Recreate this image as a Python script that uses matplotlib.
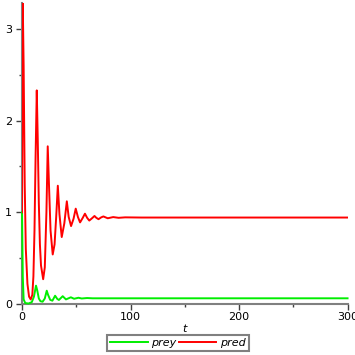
import matplotlib
matplotlib.use("Agg")
import matplotlib.pyplot as plt
from matplotlib.ticker import MultipleLocator

# Predator (red)
pred_t = [0, 0.7, 1.5, 2.5, 3.5, 5, 6.5, 8, 9.5, 10.5, 11.5, 12.5, 13.6, 14.5, 15.5, 16.5,
          17.5, 19.5, 21, 22.5, 23.7, 25, 26.3, 28.3, 30, 31.5, 33, 34.5, 36.6, 39, 41.3,
          43, 45.2, 47.5, 49.5, 51.5, 53.5, 56, 58, 60, 62, 64.5, 66.8, 68.5, 70.5, 73,
          75, 77, 79, 84, 89, 95, 110, 300]
pred_v = [1.0, 3.28, 2.6, 1.3, 0.6, 0.22, 0.08, 0.05, 0.1, 0.3, 0.8, 1.6, 2.33, 1.8, 1.1, 0.65,
          0.42, 0.27, 0.4, 1.0, 1.72, 1.25, 0.8, 0.54, 0.65, 0.95, 1.29, 0.98, 0.73, 0.88, 1.12,
          0.95, 0.85, 0.93, 1.04, 0.95, 0.89, 0.94, 0.985, 0.94, 0.91, 0.935, 0.96, 0.94, 0.925, 0.945,
          0.955, 0.945, 0.935, 0.948, 0.94, 0.945, 0.943, 0.943]

# Prey (green)
prey_t = [0, 0.7, 1.5, 3, 6, 9, 11, 12.9, 14, 15.5, 17, 19, 21, 22.8, 24, 26, 28, 30.5,
          32.5, 34, 37.5, 40.5, 45, 48, 52, 55, 60, 65, 300]
prey_v = [1.0, 0.3, 0.05, 0.01, 0.005, 0.02, 0.08, 0.2, 0.15, 0.06, 0.03, 0.025, 0.06, 0.145,
          0.1, 0.045, 0.036, 0.09, 0.055, 0.044, 0.085, 0.05, 0.073, 0.057, 0.068, 0.06, 0.065,
          0.062, 0.062]

labels = ["prey", "pred"]
colors = ["#00ee00", "#ff0000"]

fig = plt.figure(figsize=(3.55, 3.55), dpi=100)
ax = fig.add_axes([0.062, 0.1437, 0.917, 0.847])

l1, = ax.plot(prey_t, prey_v, color=colors[0], lw=1.4, clip_on=False, zorder=3)
l2, = ax.plot(pred_t, pred_v, color=colors[1], lw=1.4, clip_on=True, zorder=4)

ax.set_xlim(0, 300)
ax.set_ylim(0, 3.28)
for s in ["top", "right"]:
    ax.spines[s].set_visible(False)
for s in ["left", "bottom"]:
    ax.spines[s].set_color("#808080")
    ax.spines[s].set_linewidth(1.5)
    ax.spines[s].set_zorder(2)

ax.xaxis.set_major_locator(MultipleLocator(100))
ax.xaxis.set_minor_locator(MultipleLocator(50))
ax.yaxis.set_major_locator(MultipleLocator(1))
ax.yaxis.set_minor_locator(MultipleLocator(0.5))
ax.tick_params(which="major", length=4, width=1, color="#404040", labelsize=8, pad=2)
ax.tick_params(which="minor", length=2.5, width=1, color="#404040")
ax.tick_params(axis="y", pad=3)

ax.set_xlabel("t", fontstyle="italic", fontsize=8, labelpad=1)

leg = fig.legend([l1, l2], labels, loc="center", bbox_to_anchor=(0.501, 0.034), ncol=2,
                 frameon=True, fancybox=False, handlelength=3.4,
                 handletextpad=0.3, columnspacing=0.2, borderpad=0.3,
                 prop={"style": "italic", "size": 8})
leg.get_frame().set_edgecolor("#606060")
leg.get_frame().set_linewidth(1.5)

fig.savefig("out.png", dpi=100)
